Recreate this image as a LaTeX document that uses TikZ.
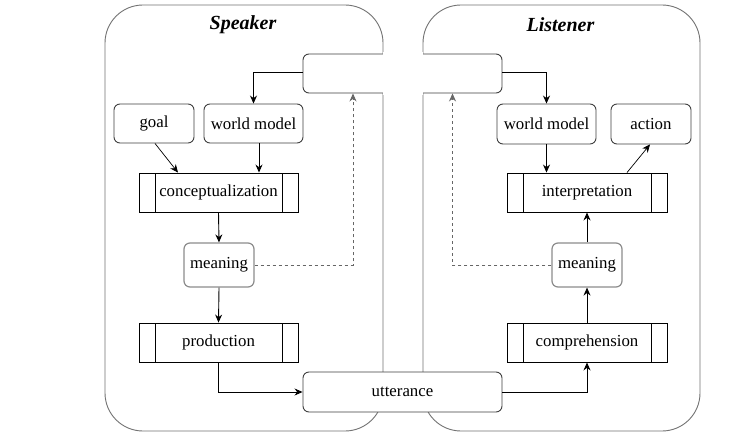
\documentclass[tikz,border=0pt]{standalone}
\usepackage{fontspec}
\setmainfont{Liberation Serif}
\usetikzlibrary{arrows.meta}
\begin{document}
\begin{tikzpicture}[x=1pt,y=-1pt,
  every node/.style={font=\fontsize{16.8}{20}\selectfont},
  frame/.style={draw=black!55, line width=0.9pt, rounded corners=38pt},
  rbox/.style={draw=black!75, line width=0.9pt, rounded corners=6pt, fill=white, inner sep=0pt},
  mbox/.style={rbox, draw=black!45, line width=1.2pt, minimum width=70pt, minimum height=44pt},
  procbox/.style={draw=black, line width=0.9pt, fill=white, inner sep=0pt, minimum width=159pt, minimum height=39pt,
    path picture={
      \draw[line width=0.9pt] ([xshift=16pt]path picture bounding box.north west) -- ([xshift=16pt]path picture bounding box.south west);
      \draw[line width=0.9pt] ([xshift=-16pt]path picture bounding box.north east) -- ([xshift=-16pt]path picture bounding box.south east);
    }},
  title/.style={font=\fontsize{20}{24}\selectfont\bfseries\itshape},
  arr/.style={draw=black, line width=0.9pt, -{Stealth[length=8pt,width=7pt]}},
  dsh/.style={draw=black!60, line width=0.9pt, dashed, -{Stealth[length=8pt,width=7pt]}}
]
\useasboundingbox[fill=white] (0,0) rectangle (738,441);
% big frames
\draw[frame] (105,5) rectangle (383,431);
\draw[frame] (423,5) rectangle (700,431);
\node[title] (spk) at (243,25) {Speaker};
\node[title] (lst) at (560.5,25) {Listener};
% top box
\node[rbox, minimum width=199pt, minimum height=39pt] (top) at (402.5,73.5) {};
\fill[white] (382.6,52) rectangle (423.4,95);
% speaker nodes
\node[rbox, minimum width=80pt, minimum height=39pt] (sgoal) at (154,123.5) {goal};
\node[rbox, minimum width=99pt, minimum height=39pt] (swm) at (253.5,123.5) {world model};
\node[procbox] (sconc) at (218.5,192.5) {conceptualization};
\node[mbox] (smean) at (219,265) {meaning};
\node[procbox] (sprod) at (218.5,342.5) {production};
% utterance
\node[rbox, minimum width=199pt, minimum height=40pt] (utt) at (402.5,392) {utterance};
% listener nodes
\node[rbox, minimum width=99pt, minimum height=40pt] (lwm) at (546.5,124) {world model};
\node[rbox, minimum width=80pt, minimum height=40pt] (lact) at (651,124) {action};
\node[procbox, minimum width=160pt] (linterp) at (587,192.5) {interpretation};
\node[mbox] (lmean) at (587,265) {meaning};
\node[procbox, minimum width=160pt] (lcomp) at (587,342.5) {comprehension};
% connectors
\draw[arr] ([yshift=1.5pt]top.west) -| (swm.north);
\draw[arr] ([yshift=1.5pt]top.east) -| (lwm.north);
\draw[arr, line width=0.7pt] ([xshift=1pt]sgoal.south) -- ([xshift=-40.5pt]sconc.north);
\draw[arr] ([xshift=5.5pt]swm.south) -- ([xshift=5.5pt]swm.south |- sconc.north);
\draw[arr] (sconc.south) -- (smean.north);
\draw[arr] (smean.south) -- (sprod.north);
\draw[arr] (sprod.south) |- (utt.west);
\draw[arr] (utt.east) -| (lcomp.south);
\draw[arr] (lcomp.north) -- (lmean.south);
\draw[arr] (lmean.north) -- (linterp.south);
\draw[arr] (lwm.south) -- (lwm.south |- linterp.north);
\draw[arr, line width=0.7pt] ([xshift=40pt]linterp.north) -- ([xshift=-1pt]lact.south);
\draw[dsh] (smean.east) -| ([xshift=-49.5pt]top.south);
\draw[dsh] (lmean.west) -| ([xshift=50pt]top.south);
\end{tikzpicture}
\end{document}
